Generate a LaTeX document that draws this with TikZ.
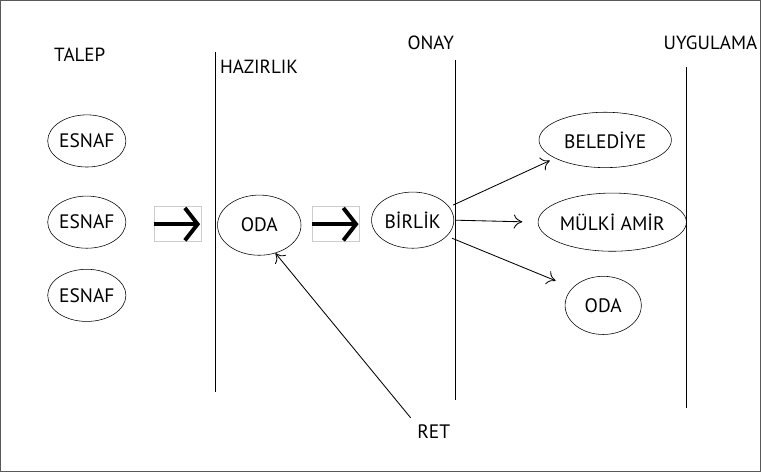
\documentclass[tikz,border=0pt]{standalone}
\usepackage{fontspec}
\setmainfont{PT Sans}
\usepackage{tikz}
\usetikzlibrary{shapes.geometric,arrows.meta}

\tikzset{
  kutu/.style={ellipse,draw,inner sep=0pt},
  baslik/.style={font=\fontsize{13.5}{15}\selectfont},
  oklar/.style={-{To[length=6pt,width=10pt]},line width=0.6pt}
}

\begin{document}
\begin{tikzpicture}[x=0.025cm,y=-0.025cm,font=\fontsize{13.8}{15}\selectfont]
        \draw[gray!70!black,line width=0.8pt] (2,2) rectangle (760,472);
        % lines between steps
        \draw (216,53) -- (216,392);
        \draw (455,61) -- (455,400);
        \draw (686,68) -- (686,408);
        \node[baslik](talep)at(81,56){TALEP};
        \node[baslik,anchor=west](hazirlik)at(216,68){HAZIRLIK};
        \node[baslik](onay)at(431,44){ONAY};
        \node[baslik](uygulama)at(710,44){UYGULAMA};
        \node[kutu,minimum width=1.8cm,minimum height=1.3cm](e1)at(88,142){ESNAF};
        \node[kutu,minimum width=1.8cm,minimum height=1.3cm](e2)at(88,223){ESNAF};
        \node[kutu,minimum width=1.8cm,minimum height=1.3cm](e3)at(88,296){ESNAF};
        \node[kutu,minimum width=2.08cm,minimum height=1.5cm](oda)at(260,226){ODA};
        \node[kutu,minimum width=2.05cm,minimum height=1.4cm](birlik)at(413,221){BİRLİK};
        \node[kutu,minimum width=3.3cm,minimum height=1.38cm](bel)at(605,141){BELEDİYE};
        \node[kutu,minimum width=3.45cm,minimum height=1.45cm](amir)at(612,223){MÜLKİ AMİR};
        \node[kutu,minimum width=1.9cm,minimum height=1.45cm](oda2)at(603,306){ODA};
        \node(ret)at(434,432){RET};
        % big arrows
        \draw[gray!40] (155,207) rectangle (202,242);
        \draw[gray!40] (313,207) rectangle (360,242);
        \draw[line width=2.8pt,-{Straight Barb[length=9pt,width=23pt,line width=2.8pt]}] (155,225) -- (201,225);
        \draw[line width=2.8pt,-{Straight Barb[length=9pt,width=23pt,line width=2.8pt]}] (313,225) -- (359,225);
        \draw[oklar,shorten <=3pt,shorten >=4pt] (birlik.20) -- (bel.200);
        \draw[oklar,shorten <=1pt,shorten >=11pt] (birlik.east) -- (amir.west);
        \draw[oklar,shorten <=4pt,shorten >=13pt] (birlik.-25) -- (oda2.150);
        \draw[oklar,shorten <=2pt] (ret.north west) -- (oda.-60);
\end{tikzpicture}
\end{document}
